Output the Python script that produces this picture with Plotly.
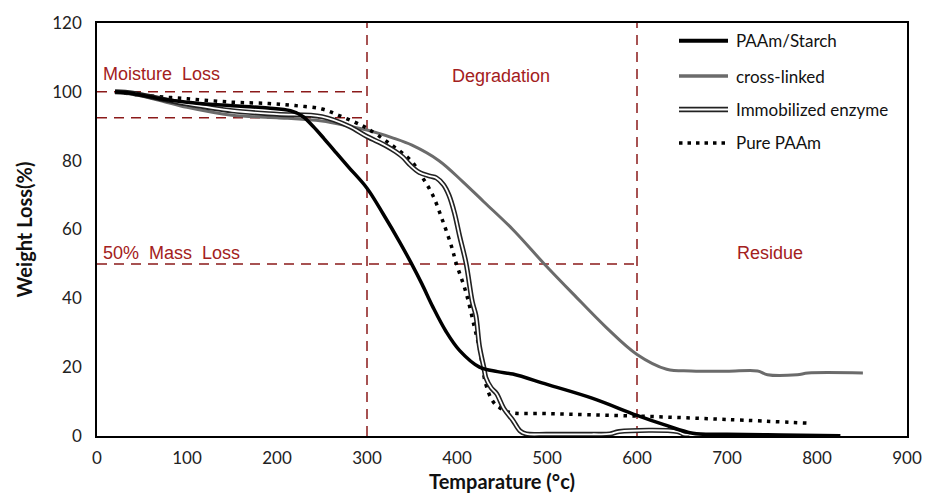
import plotly.graph_objects as go

# Thermogravimetric curves: temperature (°C) vs remaining weight (%)
paam_starch_x = [20, 40, 70, 100, 130, 160, 190, 215, 228, 240, 252, 265, 280, 300, 318, 336, 349, 361,
                 373, 388, 403, 425, 445, 462, 500, 550, 600, 630, 662, 700, 760, 826]
paam_starch_y = [100, 99.5, 98, 97, 96.3, 95.8, 95.3, 94.5, 93, 90, 86.5, 82.5, 78, 72, 64.5, 56.5, 50.3, 44.2,
                 37.6, 30.3, 24.8, 20, 18.7, 18, 15, 11, 6, 3.3, 0.8, 0.5, 0.3, 0.1]

crosslinked_x = [20, 40, 70, 100, 150, 200, 250, 280, 300, 330, 350, 380, 406, 430, 462, 497, 529, 566,
                 600, 633, 660, 700, 734, 745, 778, 790, 851]
crosslinked_y = [100, 99.3, 97.5, 95.5, 93.2, 92.5, 91.5, 90, 88.9, 86.5, 84.5, 80, 74, 68, 60, 50, 41.3, 31.5,
                 23.7, 19.4, 18.9, 18.8, 18.9, 17.8, 17.8, 18.3, 18.3]

immobilized_x = [20, 40, 70, 100, 150, 200, 250, 280, 300, 320, 332, 340, 347, 358, 370, 377, 385, 391, 397,
                 403, 410, 417, 421, 425, 430, 432, 438, 444, 452, 462, 470, 477, 500, 550, 570, 580, 645,
                 652, 658]
immobilized_y = [100, 99.6, 98, 96.5, 94.5, 93.5, 92.8, 90, 87, 84.5, 82.6, 81, 79, 76.6, 75.5, 75, 73, 70, 65,
                 58, 50.3, 39, 35, 26, 19.7, 17, 14, 12.3, 8, 4.6, 1.5, 0.6, 0.5, 0.5, 0.6, 1.3, 1.3,
                 0.5, 0.4]

pure_paam_x = [20, 50, 100, 150, 191, 220, 250, 270, 288, 300, 325, 350, 361, 373, 384, 394, 399, 410, 419,
               425, 432, 440, 447, 458, 500, 600, 700, 793]
pure_paam_y = [100, 99, 98, 97, 96.6, 96, 95, 93, 91, 89.4, 85, 79.7, 75.4, 70, 62.6, 55, 50.3, 41.7, 32,
               25.4, 15, 10, 8.3, 6.9, 6.5, 5.8, 4.8, 3.7]

series_names = ["PAAm/Starch", "cross-linked", "Immobilized enzyme", "Pure PAAm"]

# Region guides
stage_bounds_x = [300, 600]
moisture_band_y = [100, 92.5]
half_mass_y = 50

x_ticks = list(range(0, 901, 100))
y_ticks = list(range(0, 121, 20))

GUIDE = "#8B1A1A"
LABEL = "#A32020"
SMOOTH = 1.0

fig = go.Figure()

fig.add_trace(go.Scatter(x=crosslinked_x, y=crosslinked_y, mode="lines", name=series_names[1],
                         line=dict(color="#6B6B6B", width=3, shape="spline", smoothing=SMOOTH),
                         showlegend=False))
fig.add_trace(go.Scatter(x=pure_paam_x, y=pure_paam_y, mode="lines", name=series_names[3],
                         line=dict(color="black", width=3.5, dash="3.5px,5.5px", shape="spline",
                                   smoothing=SMOOTH),
                         showlegend=False))
# double-line look: dark outline with a white core
fig.add_trace(go.Scatter(x=immobilized_x, y=immobilized_y, mode="lines", name=series_names[2],
                         line=dict(color="#222", width=5, shape="spline", smoothing=SMOOTH),
                         showlegend=False))
fig.add_trace(go.Scatter(x=immobilized_x, y=immobilized_y, mode="lines", name=series_names[2],
                         line=dict(color="white", width=1.8, shape="spline", smoothing=SMOOTH),
                         showlegend=False, hoverinfo="skip"))
fig.add_trace(go.Scatter(x=paam_starch_x, y=paam_starch_y, mode="lines", name=series_names[0],
                         line=dict(color="black", width=3.5, shape="spline", smoothing=SMOOTH),
                         showlegend=False))

# dashed guide lines
dash_style = dict(color=GUIDE, width=1.5, dash="10px,7px")
for xb in stage_bounds_x:
    fig.add_shape(type="line", x0=xb, x1=xb, y0=0, y1=120, xref="x", yref="y", line=dash_style, layer="below")
for yb in moisture_band_y:
    fig.add_shape(type="line", x0=0, x1=stage_bounds_x[0], y0=yb, y1=yb, xref="x", yref="y",
                  line=dash_style, layer="below")
fig.add_shape(type="line", x0=0, x1=stage_bounds_x[1], y0=half_mass_y, y1=half_mass_y, xref="x", yref="y",
              line=dash_style, layer="below")

label_font = dict(family="Liberation Sans, Arial", size=18, color=LABEL)
fig.add_annotation(x=4.5, y=105.2, text="Moisture\u00a0\u00a0Loss", showarrow=False, xanchor="left",
                   font=label_font)
fig.add_annotation(x=449, y=104.6, text="Degradation", showarrow=False, font=label_font)
fig.add_annotation(x=4.5, y=53.2, text="50%\u00a0\u00a0Mass\u00a0\u00a0Loss", showarrow=False, xanchor="left",
                   font=label_font)
fig.add_annotation(x=748, y=53.2, text="Residue", showarrow=False, font=label_font)

# legend drawn by hand so the double line sample can be shown
W, H, L, B = 810, 420, 97, 66
def px(xp):
    return (xp - L) / W
def py(yp):
    return (502 - B - yp) / H

legend_rows = [34, 70, 104, 138]
legend_font = dict(family="Lato, Carlito, sans-serif", size=17, color="#111")
samples = [
    [dict(color="black", width=4)],
    [dict(color="#6B6B6B", width=3.5)],
    [dict(color="#222", width=5.5), dict(color="white", width=2)],
    [dict(color="black", width=3.5, dash="3.5px,5px")],
]
for row, name, styles in zip(legend_rows, series_names, samples):
    for st in styles:
        fig.add_shape(type="line", x0=px(679), x1=px(728), y0=py(row), y1=py(row), xref="paper", yref="paper",
                      line=st)
    fig.add_annotation(x=px(734), y=py(row), xref="paper", yref="paper", text=name, showarrow=False,
                       xanchor="left", yanchor="middle", font=legend_font)

axis_font = dict(family="Lato, Carlito, sans-serif", size=17, color="#222")
title_font = dict(family="Lato, Carlito, sans-serif", size=20, color="#111")
fig.update_layout(
    width=935, height=502,
    margin=dict(l=L, r=935 - L - W, t=502 - B - H, b=B),
    paper_bgcolor="white", plot_bgcolor="white",
    xaxis=dict(range=[0, 900], tickvals=x_ticks, showgrid=False, zeroline=False, showline=True,
               linecolor="black", linewidth=1.5, mirror=True, ticks="", tickfont=axis_font,
               ticklabelstandoff=6,
               title=dict(text="<b>Temparature (°c)</b>", font=title_font, standoff=8)),
    yaxis=dict(range=[0, 120], tickvals=y_ticks, showgrid=False, zeroline=False, showline=True,
               linecolor="black", linewidth=1.5, mirror=True, ticks="", tickfont=axis_font,
               ticklabelstandoff=10,
               title=dict(text="<b>Weight Loss(%)</b>", font=title_font, standoff=14)),
)

fig.write_html("out.html")
